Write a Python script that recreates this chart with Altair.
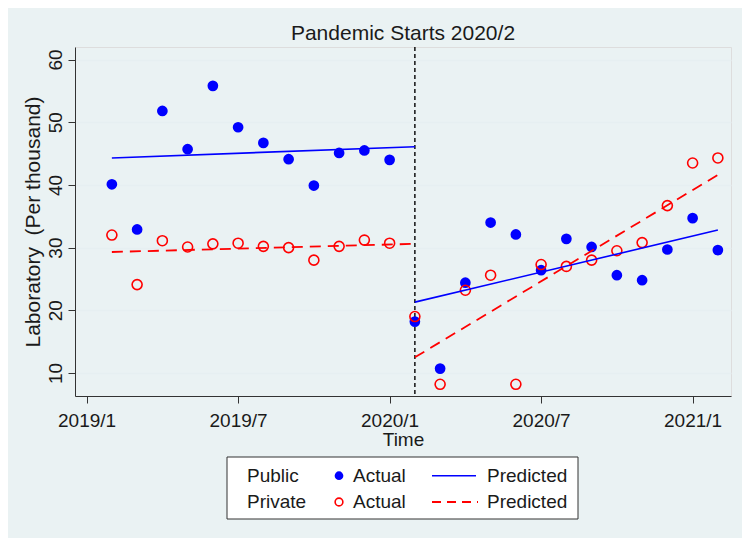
import altair as alt
import pandas as pd

FONT = "Liberation Sans"
TXT = "#1a1a1a"

# ---- data ----
months = list(range(1, 26))  # 1 = 2019/2 ... 25 = 2021/2
public_actual = [40.1, 32.9, 51.8, 45.7, 55.8, 49.2, 46.7, 44.1, 39.9, 45.1, 45.5, 44.0,
                 18.2, 10.7, 24.4, 34.0, 32.1, 26.4, 31.4, 30.1, 25.6, 24.8, 29.7, 34.7, 29.6]
private_actual = [32.0, 24.1, 31.1, 30.1, 30.6, 30.7, 30.2, 30.0, 28.0, 30.2, 31.2, 30.7,
                  19.0, 8.2, 23.2, 25.6, 8.2, 27.3, 27.0, 28.0, 29.5, 30.8, 36.7, 43.5, 44.3]

pred_months_pre = [1, 13]
pred_months_post = [13, 25]
public_pred_pre = [44.3, 46.1]
public_pred_post = [21.3, 32.8]
private_pred_pre = [29.3, 30.6]
private_pred_post = [12.5, 41.6]

pandemic_month = [13]
tick_months = [0, 6, 12, 18, 24]
tick_labels = ["2019/1", "2019/7", "2020/1", "2020/7", "2021/1"]
y_ticks = [10, 20, 30, 40, 50, 60]
chart_title = "Pandemic Starts 2020/2"
y_title = "Laboratory\u00a0\u00a0(Per thousand)"

# ---- tables ----
actual_df = pd.DataFrame({"month": months, "public": public_actual, "private": private_actual})
pub_pred_df = pd.DataFrame({
    "month": pred_months_pre + pred_months_post,
    "value": public_pred_pre + public_pred_post,
    "seg": ["pre"] * len(pred_months_pre) + ["post"] * len(pred_months_post),
})
priv_pred_df = pd.DataFrame({
    "month": pred_months_pre + pred_months_post,
    "value": private_pred_pre + private_pred_post,
    "seg": ["pre"] * len(pred_months_pre) + ["post"] * len(pred_months_post),
})
pandemic_df = pd.DataFrame({"month": pandemic_month})

label_expr = "[" + ",".join("'%s'" % t for t in tick_labels) + "][indexof([" + \
    ",".join(str(m) for m in tick_months) + "], datum.value)]"

x_scale = alt.Scale(domain=[-0.46, 25.52], nice=False, zero=False)
y_scale = alt.Scale(domain=[6.33, 62.0], nice=False, zero=False)

x_axis = alt.Axis(values=tick_months, labelExpr=label_expr, title="Time", grid=False,
                  tickSize=7, tickColor="#333", domainColor="#333", labelFontSize=19,
                  labelFont=FONT, labelColor=TXT, labelPadding=8, titleFontSize=19,
                  titleFont=FONT, titleColor=TXT, titleFontWeight="normal", titlePadding=0,
                  labelFlush=False)
y_axis = alt.Axis(values=y_ticks, title=y_title, grid=True,
                  gridColor="#E6EFF1", gridWidth=1.5, tickSize=7, tickColor="#333",
                  domainColor="#333", labelAngle=270, labelAlign="center",
                  labelBaseline="bottom", labelFontSize=19, labelFont=FONT, labelColor=TXT,
                  labelPadding=3, titleFontSize=21, titleFont=FONT, titleColor=TXT,
                  titleFontWeight="normal", titlePadding=3)


def X(field="month"):
    return alt.X(f"{field}:Q", scale=x_scale, axis=x_axis)


def Y(field):
    return alt.Y(f"{field}:Q", scale=y_scale, axis=y_axis)


rule = alt.Chart(pandemic_df).mark_rule(color="#111", strokeDash=[4, 3], strokeWidth=1.5).encode(
    x=X(), y=alt.value(0), y2=alt.value(349))

pub_pts = alt.Chart(actual_df).mark_circle(color="#0000FF", size=115, opacity=1).encode(
    x=X(), y=Y("public"))
priv_pts = alt.Chart(actual_df).mark_point(shape="circle", filled=False, color="#FF0000",
                                           size=100, strokeWidth=1.6, opacity=1).encode(
    x=X(), y=Y("private"))

pub_line = alt.Chart(pub_pred_df).mark_line(color="#0000FF", strokeWidth=1.6).encode(
    x=X(), y=Y("value"), detail="seg:N")
priv_line = alt.Chart(priv_pred_df).mark_line(color="#FF0000", strokeWidth=1.8,
                                              strokeDash=[11, 7]).encode(
    x=X(), y=Y("value"), detail="seg:N")


def one(values):
    return alt.Data(values=[values])


title_layer = alt.Chart(one({"t": chart_title})).mark_text(
    align="center", baseline="alphabetic", fontSize=21, font=FONT, color=TXT).encode(
    x=alt.value(328), y=alt.value(-7.5), text="t:N")

# ---- legend (drawn as a boxed key under the plot) ----
legend_rows = ["Public", "Private"]
legend_keys = ["Actual", "Predicted"]
row_y = [428.7, 455.0]

legend_box = alt.Chart(one({"k": 1})).mark_rect(fill="white", stroke="#333", strokeWidth=1).encode(
    x=alt.value(152), x2=alt.value(503), y=alt.value(410), y2=alt.value(472))


def ltext(label, x, y):
    return alt.Chart(one({"t": label})).mark_text(
        align="left", baseline="middle", fontSize=19, font=FONT, color=TXT).encode(
        x=alt.value(x), y=alt.value(y), text="t:N")


legend_layers = [legend_box]
for i, r in enumerate(legend_rows):
    legend_layers.append(ltext(r, 172, row_y[i]))
    legend_layers.append(ltext(legend_keys[0], 278, row_y[i]))
    legend_layers.append(ltext(legend_keys[1], 412, row_y[i]))

legend_layers.append(alt.Chart(one({"k": 1})).mark_circle(color="#0000FF", size=75, opacity=1).encode(
    x=alt.value(264), y=alt.value(row_y[0])))
legend_layers.append(alt.Chart(one({"k": 1})).mark_point(shape="circle", filled=False, color="#FF0000",
                                                         size=60, strokeWidth=1.6, opacity=1).encode(
    x=alt.value(264), y=alt.value(row_y[1])))
legend_layers.append(alt.Chart(one({"k": 1})).mark_rule(color="#0000FF", strokeWidth=1.6).encode(
    x=alt.value(357), x2=alt.value(401), y=alt.value(row_y[0])))
legend_layers.append(alt.Chart(one({"k": 1})).mark_rule(color="#FF0000", strokeWidth=1.8,
                                                        strokeDash=[9, 6]).encode(
    x=alt.value(357), x2=alt.value(403), y=alt.value(row_y[1])))

chart = alt.layer(rule, pub_pts, priv_pts, pub_line, priv_line, title_layer,
                  *legend_layers).properties(
    width=656, height=349,
    background="#EAF2F3",
    autosize=alt.AutoSizeParams(type="none"),
    padding={"left": 67, "top": 39, "right": 11, "bottom": 142},
).configure_view(fill="white", strokeWidth=0).configure(font=FONT)

chart.save("out.html", embed_options={"renderer": "svg", "actions": False})
